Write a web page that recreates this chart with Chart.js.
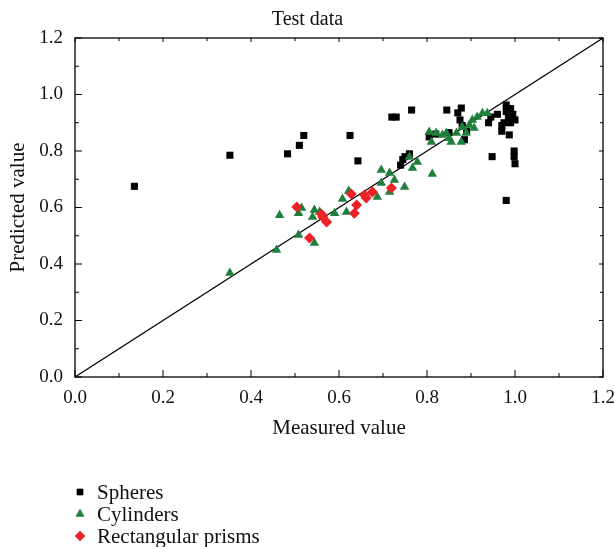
<!DOCTYPE html>
<html>
<head>
<meta charset="UTF-8">
<title>Test data</title>
<script src="https://cdn.jsdelivr.net/npm/chart.js@4.4.0/dist/chart.umd.min.js"></script>
<style>
  html, body { margin: 0; padding: 0; background: #fff; }
  #wrap { width: 615px; height: 547px; position: relative; }
</style>
</head>
<body>
<div id="wrap"><canvas id="myChart"></canvas></div>
<script>
// values
var sphereX = [0.135, 0.352, 0.483, 0.51, 0.52, 0.625, 0.643, 0.72, 0.73, 0.765, 0.74, 0.745, 0.75, 0.76, 0.805, 0.82, 0.845, 0.85, 0.87, 0.878, 0.875, 0.88, 0.885, 0.89, 0.94, 0.945, 0.948, 0.97, 0.975, 0.98, 0.98, 0.985, 0.99, 0.995, 1.0, 0.987, 0.99, 0.998, 0.998, 1.0, 0.98, 0.96, 0.97];
var sphereY = [0.675, 0.785, 0.79, 0.82, 0.855, 0.855, 0.765, 0.92, 0.92, 0.945, 0.75, 0.77, 0.78, 0.79, 0.85, 0.86, 0.945, 0.865, 0.935, 0.952, 0.91, 0.89, 0.84, 0.87, 0.9, 0.92, 0.78, 0.87, 0.9, 0.963, 0.94, 0.92, 0.95, 0.93, 0.91, 0.857, 0.9, 0.8, 0.78, 0.755, 0.625, 0.93, 0.89];

var cylX = [0.352, 0.458, 0.465, 0.508, 0.515, 0.508, 0.544, 0.544, 0.54, 0.556, 0.59, 0.608, 0.622, 0.617, 0.687, 0.696, 0.715, 0.715, 0.696, 0.726, 0.749, 0.76, 0.778, 0.767, 0.812, 0.805, 0.821, 0.81, 0.835, 0.855, 0.844, 0.878, 0.867, 0.88, 0.896, 0.907, 0.889, 0.914, 0.926, 0.937, 0.903, 0.85];
var cylY = [0.368, 0.45, 0.573, 0.503, 0.598, 0.58, 0.474, 0.591, 0.566, 0.584, 0.58, 0.63, 0.658, 0.584, 0.637, 0.733, 0.722, 0.655, 0.687, 0.697, 0.673, 0.779, 0.761, 0.74, 0.719, 0.867, 0.864, 0.832, 0.857, 0.832, 0.864, 0.832, 0.864, 0.885, 0.892, 0.881, 0.864, 0.92, 0.934, 0.934, 0.91, 0.845];

var prismX = [0.504, 0.533, 0.563, 0.572, 0.56, 0.628, 0.64, 0.635, 0.662, 0.658, 0.676, 0.719];
var prismY = [0.602, 0.492, 0.566, 0.549, 0.577, 0.648, 0.609, 0.58, 0.634, 0.644, 0.655, 0.669];

var lineX = [0, 1.2];
var lineY = [0, 1.2];

var tickValues = [0, 0.2, 0.4, 0.6, 0.8, 1.0, 1.2];
var tickLabels = ['0.0', '0.2', '0.4', '0.6', '0.8', '1.0', '1.2'];

function pts(xs, ys) {
  return xs.map(function (x, i) { return { x: x, y: ys[i] }; });
}

var FONT = "'Liberation Serif', 'DejaVu Serif', serif";

// box round the plot, inward tick marks and the legend under the chart
var extras = {
  id: 'extras',
  afterDraw: function (chart) {
    var ctx = chart.ctx;
    var a = chart.chartArea;
    var sx = chart.scales.x, sy = chart.scales.y;
    ctx.save();
    ctx.strokeStyle = '#000';
    ctx.lineWidth = 1.3;
    ctx.strokeRect(a.left, a.top, a.right - a.left, a.bottom - a.top);

    ctx.lineWidth = 1;
    ctx.beginPath();
    for (var i = 0; i < tickValues.length; i++) {
      var px = sx.getPixelForValue(tickValues[i]);
      var py = sy.getPixelForValue(tickValues[i]);
      ctx.moveTo(px, a.bottom); ctx.lineTo(px, a.bottom - 7);
      ctx.moveTo(px, a.top); ctx.lineTo(px, a.top + 4);
      ctx.moveTo(a.left, py); ctx.lineTo(a.left + 7, py);
      ctx.moveTo(a.right, py); ctx.lineTo(a.right - 4, py);
      if (i < tickValues.length - 1) {
        var mid = (tickValues[i] + tickValues[i + 1]) / 2;
        var mx = sx.getPixelForValue(mid);
        var my = sy.getPixelForValue(mid);
        ctx.moveTo(mx, a.bottom); ctx.lineTo(mx, a.bottom - 4);
        ctx.moveTo(mx, a.top); ctx.lineTo(mx, a.top + 3);
        ctx.moveTo(a.left, my); ctx.lineTo(a.left + 4, my);
        ctx.moveTo(a.right, my); ctx.lineTo(a.right - 3, my);
      }
    }
    ctx.stroke();

    // legend
    ctx.font = '21px ' + FONT;
    ctx.textBaseline = 'middle';
    var rows = [492, 514, 536];
    for (var k = 0; k < 3; k++) {
      var ds = chart.data.datasets[k];
      ctx.fillStyle = ds.backgroundColor;
      ctx.strokeStyle = ds.backgroundColor;
      Chart.helpers.drawPoint(ctx, { pointStyle: ds.pointStyle, radius: ds.pointRadius - 0.5, borderWidth: 0 }, 80, rows[k]);
      ctx.fill();
      ctx.fillStyle = '#111';
      ctx.fillText(ds.label, 97, rows[k] + 1);
    }
    ctx.restore();
  }
};

var ctx = document.getElementById('myChart').getContext('2d');
var myChart = new Chart(ctx, {
  type: 'scatter',
  data: {
    datasets: [
      {
        label: 'Spheres',
        data: pts(sphereX, sphereY),
        pointStyle: 'rect',
        pointRadius: 5,
        backgroundColor: '#000000',
        borderColor: '#000000',
        borderWidth: 0,
        order: 3
      },
      {
        label: 'Cylinders',
        data: pts(cylX, cylY),
        pointStyle: 'triangle',
        pointRadius: 5.5,
        backgroundColor: '#1f7f3d',
        borderColor: '#1f7f3d',
        borderWidth: 0,
        order: 2
      },
      {
        label: 'Rectangular prisms',
        data: pts(prismX, prismY),
        pointStyle: 'rectRot',
        pointRadius: 5.5,
        backgroundColor: '#ec2227',
        borderColor: '#ec2227',
        borderWidth: 0,
        order: 1
      },
      {
        label: 'y = x',
        data: pts(lineX, lineY),
        showLine: true,
        pointRadius: 0,
        borderColor: '#000',
        borderWidth: 1.2,
        fill: false,
        order: 10
      }
    ]
  },
  options: {
    responsive: true,
    maintainAspectRatio: false,
    animation: false,
    layout: { padding: { top: 0, right: 0, bottom: 102, left: 0 } },
    plugins: {
      legend: { display: false },
      tooltip: { enabled: false },
      title: {
        display: true,
        text: 'Test data',
        color: '#111',
        font: { family: FONT, size: 20, weight: 'normal' },
        padding: { top: 8, bottom: 6 }
      }
    },
    scales: {
      x: {
        type: 'linear',
        min: 0,
        max: 1.2,
        afterBuildTicks: function (s) { s.ticks = tickValues.map(function (v) { return { value: v }; }); },
        afterFit: function (s) { s.height = 68; s.paddingLeft = 0; s.paddingRight = 12; },
        grid: { display: false, drawTicks: false },
        border: { display: false },
        ticks: {
          color: '#111',
          padding: 10,
          maxRotation: 0,
          font: { family: FONT, size: 19 },
          callback: function (v, i) { return tickLabels[i]; }
        },
        title: {
          display: true,
          text: 'Measured value',
          color: '#111',
          font: { family: FONT, size: 21 },
          padding: { top: 4, bottom: 4 }
        }
      },
      y: {
        type: 'linear',
        min: 0,
        max: 1.2,
        afterBuildTicks: function (s) { s.ticks = tickValues.map(function (v) { return { value: v }; }); },
        afterFit: function (s) { s.width = 75; },
        grid: { display: false, drawTicks: false },
        border: { display: false },
        ticks: {
          color: '#111',
          padding: 12,
          font: { family: FONT, size: 19 },
          callback: function (v, i) { return tickLabels[i]; }
        },
        title: {
          display: true,
          text: 'Predicted value',
          color: '#111',
          font: { family: FONT, size: 21 },
          padding: { top: 6, bottom: 4 }
        }
      }
    }
  },
  plugins: [extras]
});
</script>
</body>
</html>
